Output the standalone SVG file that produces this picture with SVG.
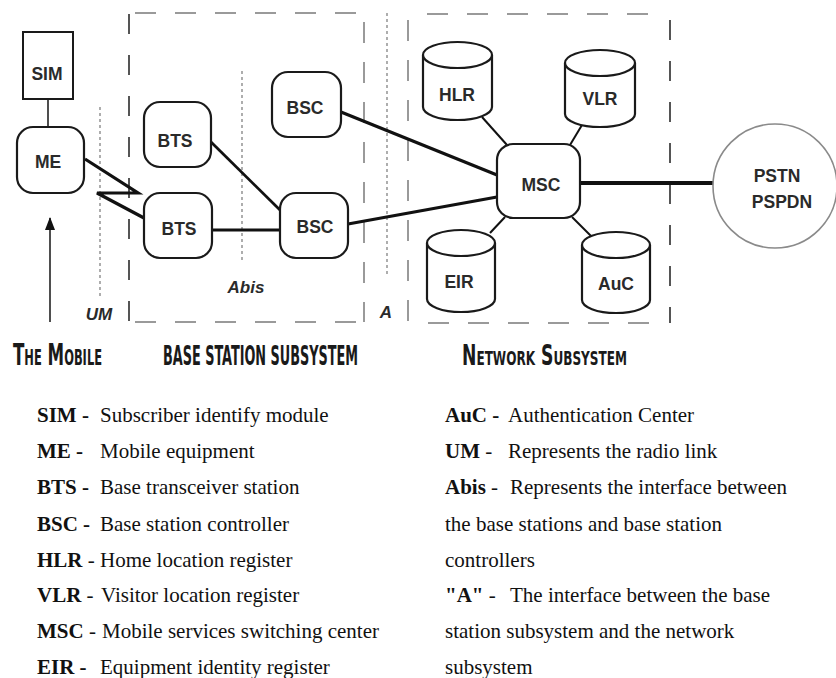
<svg xmlns="http://www.w3.org/2000/svg" width="836" height="678" viewBox="0 0 836 678">
<style>
.box{fill:#fff;stroke:#1a1a1a;stroke-width:2.2}
.cyl{fill:#fff;stroke:#1a1a1a;stroke-width:2.2}
.lbl{font-family:"Liberation Sans",Arial,sans-serif;font-weight:bold;font-size:17.5px;fill:#2a2a2a;text-anchor:middle}
.ifc{font-family:"Liberation Sans",Arial,sans-serif;font-weight:bold;font-style:italic;font-size:17px;fill:#2a2a2a;text-anchor:middle}
.thick{stroke:#111;stroke-width:3.2;fill:none}
.thin{stroke:#111;stroke-width:2;fill:none}
.dot{stroke:#9a9a9a;stroke-width:1.6;stroke-dasharray:3 3;fill:none}
.dashg{stroke:#9a9a9a;stroke-width:2;stroke-dasharray:21 19;fill:none}
.dashd{stroke:#555;stroke-width:2;stroke-dasharray:20 21;fill:none}
.title{font-family:"DejaVu Sans Condensed","DejaVu Sans",sans-serif;font-weight:bold;fill:#1a1a1a}
.sc{font-variant:small-caps}
.leg{font-family:"Liberation Serif","Times New Roman",serif;font-size:21px;fill:#111}
.b{font-weight:bold}
</style>
<defs>
<marker id="arr" markerWidth="13" markerHeight="10" refX="12" refY="5" orient="auto" markerUnits="userSpaceOnUse" viewBox="0 0 13 10">
<path d="M0,0 L13,5 L0,10 Z" fill="#111"/>
</marker>
</defs>

<!-- subsystem boundaries -->
<g id="bss-boundary">
<line class="dashd" x1="129" y1="14" x2="129" y2="322"/>
<line class="dashg" x1="135" y1="13" x2="363" y2="13"/>
<line class="dashg" x1="364" y1="22" x2="364" y2="322"/>
<line class="dashg" x1="135" y1="322" x2="360" y2="322"/>
</g>
<g id="nss-boundary">
<line class="dashg" x1="408" y1="20" x2="408" y2="323"/>
<line class="dashg" x1="427" y1="14" x2="652" y2="14"/>
<line class="dashd" x1="670" y1="20" x2="670" y2="323"/>
<line class="dashg" x1="428" y1="323" x2="655" y2="323"/>
</g>
<g id="interfaces">
<line class="dot" x1="100" y1="107" x2="100" y2="298"/>
<line class="dot" x1="242" y1="71" x2="242" y2="263"/>
<line class="dot" x1="387" y1="13" x2="387" y2="277"/>
<text class="ifc" x="99" y="320">UM</text>
<text class="ifc" x="246" y="293">Abis</text>
<text class="ifc" x="386" y="318">A</text>
</g>

<!-- connectors -->
<g id="connectors">
<line x1="48" y1="99" x2="48" y2="127" style="stroke:#222;stroke-width:1.6"/>
<polyline class="thick" points="85,159 138,193 97,193 144,218"/>
<line class="thin" x1="211" y1="142" x2="281" y2="211" style="stroke-width:2.8"/>
<line class="thick" x1="212" y1="230" x2="280" y2="230"/>
<line class="thick" x1="341" y1="112" x2="497" y2="175"/>
<line class="thick" x1="348" y1="224" x2="497" y2="197"/>
<line class="thin" x1="482" y1="117" x2="507" y2="145"/>
<line class="thin" x1="582" y1="125" x2="570" y2="145"/>
<line class="thin" x1="490" y1="233" x2="505" y2="217"/>
<line class="thin" x1="592" y1="237" x2="572" y2="217"/>
<line class="thick" x1="580" y1="183" x2="713" y2="183" style="stroke-width:3.8"/>
<line x1="50" y1="322" x2="50" y2="218" style="stroke:#222;stroke-width:1.6" marker-end="url(#arr)"/>
</g>

<!-- nodes -->
<g id="SIM"><rect x="23" y="32" width="50" height="67" fill="#fff" stroke="#1a1a1a" stroke-width="2"/><text class="lbl" x="47" y="80">SIM</text></g>
<g id="ME"><rect class="box" x="17" y="127" width="67" height="66" rx="16"/><text class="lbl" x="48" y="168">ME</text></g>
<g id="BTS1"><rect class="box" x="144" y="102" width="67" height="65" rx="16"/><text class="lbl" x="175" y="147">BTS</text></g>
<g id="BTS2"><rect class="box" x="144" y="193" width="68" height="65" rx="16"/><text class="lbl" x="179" y="235">BTS</text></g>
<g id="BSC1"><rect class="box" x="272" y="72" width="69" height="65" rx="16"/><text class="lbl" x="305" y="114">BSC</text></g>
<g id="BSC2"><rect class="box" x="280" y="193" width="68" height="65" rx="16"/><text class="lbl" x="315" y="233">BSC</text></g>
<g id="MSC"><rect class="box" x="497" y="144" width="83" height="74" rx="16"/><text class="lbl" x="541" y="191">MSC</text></g>
<g id="HLR"><path class="cyl" d="M423,55 L423,107 A34.5,13 0 0 0 492,107 L492,55"/><ellipse class="cyl" cx="457.5" cy="55" rx="34.5" ry="13"/><text class="lbl" x="457" y="101">HLR</text></g>
<g id="VLR"><path class="cyl" d="M565,63 L565,114 A35,13 0 0 0 635,114 L635,63"/><ellipse class="cyl" cx="600" cy="63" rx="35" ry="13"/><text class="lbl" x="600" y="105">VLR</text></g>
<g id="EIR"><path class="cyl" d="M427,243 L427,299 A34,13 0 0 0 495,299 L495,243"/><ellipse class="cyl" cx="461" cy="243" rx="34" ry="13"/><text class="lbl" x="459" y="288">EIR</text></g>
<g id="AuC"><path class="cyl" d="M582,245 L582,300 A34,13 0 0 0 650,300 L650,245"/><ellipse class="cyl" cx="616" cy="245" rx="34" ry="13"/><text class="lbl" x="616" y="290">AuC</text></g>
<g id="PSTN"><circle cx="775" cy="186" r="62" fill="#fff" stroke="#8a8a8a" stroke-width="1.6"/><text class="lbl" x="777" y="182">PSTN</text><text class="lbl" x="782" y="208">PSPDN</text></g>

<!-- section titles -->
<g id="titles">
<text class="title sc" transform="translate(13,365) scale(1,1.8)" x="0" y="0" font-size="17" textLength="89" lengthAdjust="spacingAndGlyphs">The Mobile</text>
<text class="title" transform="translate(163,365) scale(1,1.75)" x="0" y="0" font-size="15" textLength="195" lengthAdjust="spacingAndGlyphs">BASE STATION SUBSYSTEM</text>
<text class="title sc" transform="translate(462,365) scale(1,1.75)" x="0" y="0" font-size="16" textLength="165" lengthAdjust="spacingAndGlyphs">Network Subsystem</text>
</g>

<!-- legend -->
<g id="legend" class="leg">
<text x="37" y="422"><tspan class="b">SIM -</tspan></text><text x="100" y="422">Subscriber identify module</text>
<text x="37" y="458"><tspan class="b">ME -</tspan></text><text x="100" y="458">Mobile equipment</text>
<text x="37" y="494"><tspan class="b">BTS -</tspan></text><text x="100" y="494">Base transceiver station</text>
<text x="37" y="531"><tspan class="b">BSC -</tspan></text><text x="100" y="531">Base station controller</text>
<text x="37" y="567"><tspan class="b">HLR</tspan> -</text><text x="100" y="567">Home location register</text>
<text x="37" y="602"><tspan class="b">VLR</tspan> -</text><text x="101" y="602">Visitor location register</text>
<text x="37" y="638"><tspan class="b">MSC</tspan> -</text><text x="102" y="638">Mobile services switching center</text>
<text x="37" y="674"><tspan class="b">EIR -</tspan></text><text x="100" y="674">Equipment identity register</text>

<text x="445" y="422"><tspan class="b">AuC -</tspan></text><text x="508" y="422">Authentication Center</text>
<text x="445" y="458"><tspan class="b">UM</tspan> -</text><text x="508" y="458">Represents the radio link</text>
<text x="445" y="494"><tspan class="b">Abis</tspan> -</text><text x="510" y="494">Represents the interface between</text>
<text x="445" y="531">the base stations and base station</text>
<text x="445" y="567">controllers</text>
<text x="445" y="602"><tspan class="b">"A"</tspan> -</text><text x="510" y="602">The interface between the base</text>
<text x="445" y="638">station subsystem and the network</text>
<text x="445" y="674">subsystem</text>
</g>
</svg>
